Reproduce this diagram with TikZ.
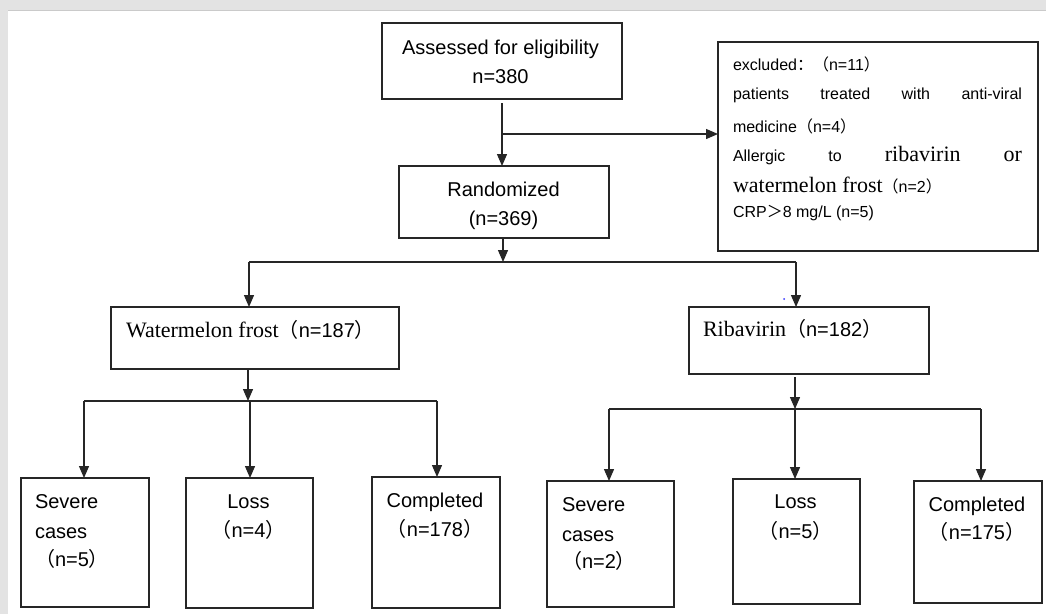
\documentclass[tikz,border=0pt]{standalone}
\usepackage{fontspec}
\setmainfont{Liberation Sans}
\newfontfamily\serifrm{Liberation Serif}
\newfontfamily\cjk{Noto Sans CJK SC}
\usetikzlibrary{arrows.meta}
\definecolor{bandgray}{HTML}{E3E3E3}
\definecolor{bandline}{HTML}{CACACA}
\definecolor{linegray}{HTML}{262626}
\newcommand\flp{{\cjk （}}
\newcommand\frp{{\cjk ）}}
\newcommand\fcolon{{\cjk ：}}
\newcommand\fgt{{\cjk ＞}}
\newcommand\serifbig{\serifrm\fontsize{22}{26}\selectfont}
\begin{document}
\begin{tikzpicture}[x=1pt,y=-1pt,
  boxstyle/.style={draw=linegray,line width=1.3pt,inner sep=0pt,outer sep=0pt},
  txt/.style={inner sep=0pt,outer sep=0pt,text=black,font=\fontsize{20}{24}\selectfont},
  smalltxt/.style={inner sep=0pt,outer sep=0pt,text=black,font=\fontsize{16}{20}\selectfont},
  ln/.style={draw=linegray,line width=1.3pt},
  arr/.style={draw=linegray,line width=1.3pt,-{Triangle[length=12pt,width=10pt]}}]
\useasboundingbox (0,0) rectangle (1046,614);
% page background bands
\fill[white] (0,0) rectangle (1046,614);
\fill[bandgray] (0,0) rectangle (1046,10);
\fill[bandgray] (0,0) rectangle (8,614);
\draw[bandline,line width=1pt] (8,10.5) -- (1046,10.5);

% boxes
\node[boxstyle,minimum width=240,minimum height=76] (assess) at (502,61) {};
\node[boxstyle,minimum width=320,minimum height=209] (excl) at (878,146.5) {};
\node[boxstyle,minimum width=210,minimum height=72] (rand) at (504,202) {};
\node[boxstyle,minimum width=288,minimum height=62] (wm) at (255,338) {};
\node[boxstyle,minimum width=240,minimum height=67] (rib) at (809,340.5) {};
\node[boxstyle,minimum width=128,minimum height=129] (sev1) at (85,542.5) {};
\node[boxstyle,minimum width=127,minimum height=130] (loss1) at (249.5,543) {};
\node[boxstyle,minimum width=128,minimum height=131] (comp1) at (436,542.5) {};
\node[boxstyle,minimum width=127,minimum height=126] (sev2) at (610.5,544) {};
\node[boxstyle,minimum width=127,minimum height=125] (loss2) at (796.5,541.5) {};
\node[boxstyle,minimum width=128,minimum height=122] (comp2) at (978,542) {};

% texts
\node[txt,anchor=base] (t1a) at (500.5,54.5) {Assessed for eligibility};
\node[txt,anchor=base] (t1b) at (500.5,83) {n=380};
\node[txt,anchor=base] (t2a) at (503.5,196) {Randomized};
\node[txt,anchor=base] (t2b) at (503.5,225) {(n=369)};

\node[smalltxt,anchor=base west] (e1) at (733,70) {excluded\fcolon\flp n=11\frp};
\node[smalltxt,anchor=base west] (e2) at (733,99) {\makebox[289pt][s]{patients treated with anti-viral}};
\node[smalltxt,anchor=base west] (e3) at (733,132) {medicine\flp n=4\frp};
\node[smalltxt,anchor=base west] (e4) at (733,161) {\makebox[289pt][s]{Allergic to {\serifbig ribavirin} {\serifbig or}}};
\node[smalltxt,anchor=base west] (e5) at (733,192) {{\serifbig watermelon frost}\flp n=2\frp};
\node[smalltxt,anchor=base west] (e6) at (733,217) {CRP\fgt 8 mg/L (n=5)};

\node[txt,anchor=base west] (twm) at (126,337) {{\serifbig Watermelon frost}\flp n=187\frp};
\node[txt,anchor=base west] (trib) at (703,336) {{\serifbig Ribavirin}\flp n=182\frp};

\node[txt,anchor=base west] (s1a) at (35,508) {Severe};
\node[txt,anchor=base west] (s1b) at (35,538) {cases};
\node[txt,anchor=base west] (s1c) at (35,566) {\flp n=5\frp};
\node[txt,anchor=base] (l1a) at (248.5,508) {Loss};
\node[txt,anchor=base] (l1b) at (248.5,537) {\flp n=4\frp};
\node[txt,anchor=base] (c1a) at (435,507) {Completed};
\node[txt,anchor=base] (c1b) at (435,536) {\flp n=178\frp};

\node[txt,anchor=base west] (s2a) at (562,511) {Severe};
\node[txt,anchor=base west] (s2b) at (562,541) {cases};
\node[txt,anchor=base west] (s2c) at (562,568) {\flp n=2\frp};
\node[txt,anchor=base] (l2a) at (795.5,508) {Loss};
\node[txt,anchor=base] (l2b) at (795.5,538) {\flp n=5\frp};
\node[txt,anchor=base] (c2a) at (977,511) {Completed};
\node[txt,anchor=base] (c2b) at (977,539) {\flp n=175\frp};

% junction coordinates
\coordinate (a0) at (502,103);
\coordinate (a1) at (502,134);
\coordinate (r0) at (503,238);
\coordinate (r1) at (503,262);
\coordinate (hl) at (249,262);
\coordinate (hr) at (796,262);
\coordinate (w0) at (248,369);
\coordinate (w1) at (248,401);
\coordinate (wl) at (84,401);
\coordinate (wm1) at (250,401);
\coordinate (wr) at (437,401);
\coordinate (b0) at (795,377);
\coordinate (b1) at (795,409);
\coordinate (bl) at (609,409);
\coordinate (bm) at (795,409);
\coordinate (br) at (981,409);

% connectors
\draw[arr] (a0) -- (a0 |- rand.north);
\draw[arr] (a1) -- (a1 -| excl.west);
\draw[arr] (r0) -- (r1);
\draw[ln] (hl) -- (hr);
\draw[arr] (hl) -- (hl |- wm.north);
\draw[arr] (hr) -- (hr |- rib.north);
\draw[arr] (w0) -- (w1);
\draw[ln] (wl) -- (wr);
\draw[arr] (wl) -- (wl |- sev1.north);
\draw[arr] (wm1) -- (wm1 |- loss1.north);
\draw[arr] (wr) -- (wr |- comp1.north);
\draw[arr] (b0) -- (b1);
\draw[ln] (bl) -- (br);
\draw[arr] (bl) -- (bl |- sev2.north);
\draw[arr] (bm) -- (bm |- loss2.north);
\draw[arr] (br) -- (br |- comp2.north);

% stray dot
\fill[blue!80] (784,299) circle (1);
\end{tikzpicture}
\end{document}
